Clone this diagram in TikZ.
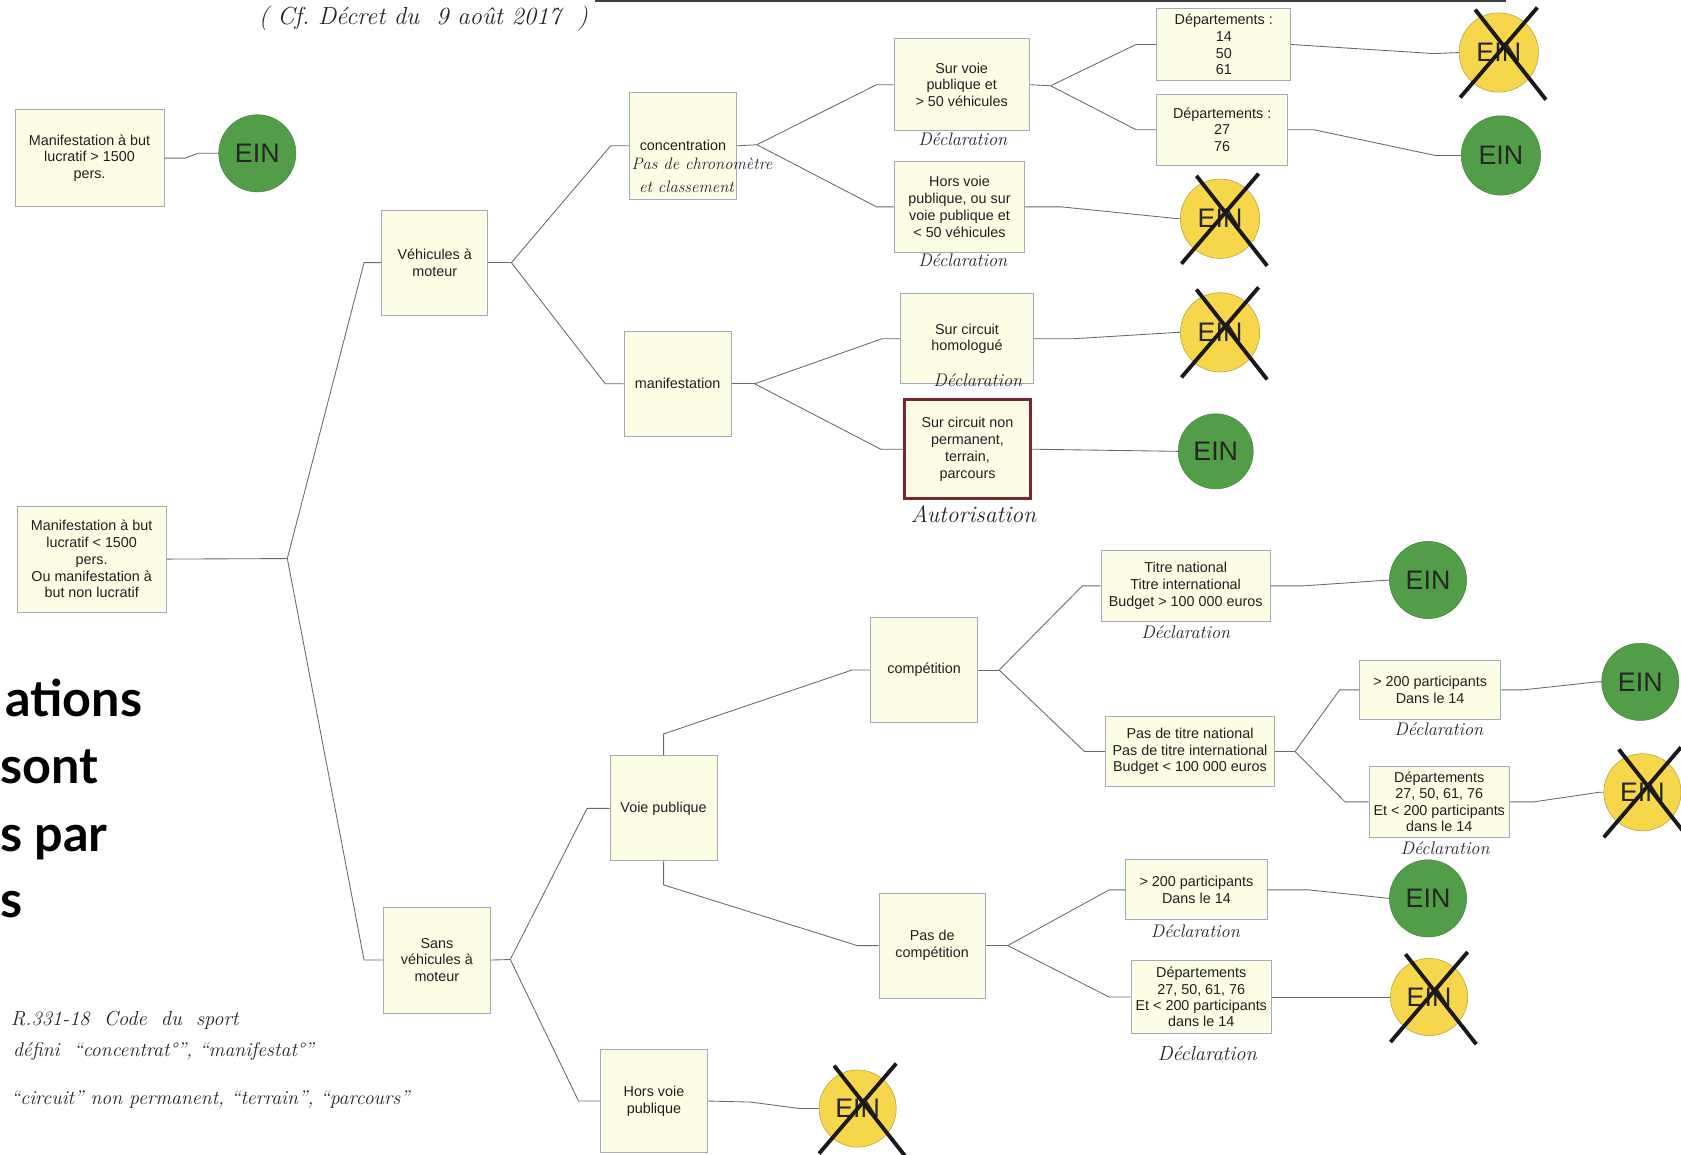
\documentclass[tikz,border=0pt]{standalone}
\usepackage{fontspec}
\newfontfamily\arial{Liberation Sans}
\newfontfamily\latof{Lato}
\definecolor{boxfill}{RGB}{253,253,230}
\definecolor{boxborder}{RGB}{160,172,188}
\definecolor{conncol}{RGB}{105,105,105}
\definecolor{eingreen}{RGB}{82,158,72}
\definecolor{einyellow}{RGB}{246,214,74}
\definecolor{redframe}{RGB}{122,38,46}
\definecolor{ink}{RGB}{35,35,48}
\begin{document}
\begin{tikzpicture}[x=1pt,y=-1pt,
  box/.style={draw=boxborder, fill=boxfill, line width=0.8pt, inner sep=2pt, align=center,
    font=\arial\fontsize{13.4}{15.6}\selectfont, text=black!88},
  redbox/.style={box, draw=redframe, line width=3pt},
  ein/.style={circle, minimum size=#1, inner sep=0pt, font=\arial\fontsize{25}{25}\selectfont, text=black!85},
  ein/.default=72pt,
  eingr/.style={ein=#1, fill=eingreen, draw=eingreen!85!black, line width=0.5pt},
  eingr/.default=72pt,
  einye/.style={ein=#1, fill=einyellow, draw=einyellow!75!black, line width=0.5pt},
  einye/.default=72pt,
  conn/.style={draw=conncol, line width=0.8pt},
  crossline/.style={draw=black!90, line width=3.6pt},
  hand/.style={inner sep=0pt, text=ink, font=\rmfamily\itshape\fontsize{#1}{#1}\selectfont},
  hand/.default=17,
  bigtxt/.style={inner sep=0pt, font=\latof\bfseries\fontsize{47}{47}\selectfont, text=black}
]
\useasboundingbox (0,0) rectangle (1568,1077);
\fill[white] (0,0) rectangle (1568,1077);

% top partial line
\coordinate (tl1) at (555,1.2);
\coordinate (tl2) at (1405,1.2);
\draw[draw=black!75, line width=2pt] (tl1) -- (tl2);

% title
\node[hand=23] (title) at (395,17) {(\ Cf.\ Décret du \ 9 août 2017 \ )};

% big cut text
\begin{scope}
\clip (0,0) rectangle (1568,1077);
\node[bigtxt, anchor=base east] (bt1) at (133,668) {ations};
\node[bigtxt, anchor=base west] (bt2) at (0,731) {sont};
\node[bigtxt, anchor=base west] (bt3) at (0,794) {s par};
\node[bigtxt, anchor=base west] (bt4) at (0,856) {s};
\end{scope}

% boxes
\node[box, minimum width=139pt, minimum height=91pt] (b1) at (83.5,147.5) {Manifestation à but\\lucratif > 1500\\pers.};
\node[box, minimum width=139pt, minimum height=99pt] (b2) at (85.5,521.5) {Manifestation à but\\lucratif < 1500\\pers.\\Ou manifestation à\\but non lucratif};
\node[box, minimum width=99pt, minimum height=98pt] (veh) at (405.5,245) {Véhicules à\\moteur};
\node[box, minimum width=100pt, minimum height=100pt] (conc) at (637,136) {concentration};
\node[box, minimum width=126pt, minimum height=86pt] (survoie) at (897,79) {Sur voie\\publique et\\> 50 véhicules};
\node[box, minimum width=125pt, minimum height=67pt] (dep1) at (1141.5,41.5) {Départements :\\14\\50\\61};
\node[box, minimum width=122pt, minimum height=66pt] (dep2) at (1140,121) {Départements :\\27\\76};
\node[box, minimum width=122pt, minimum height=84pt] (horsv1) at (895,193) {Hors voie\\publique, ou sur\\voie publique et\\< 50 véhicules};
\node[box, minimum width=100pt, minimum height=98pt] (manif) at (632,358) {manifestation};
\node[box, minimum width=124pt, minimum height=84pt] (homol) at (902,316) {Sur circuit\\homologué};
\node[redbox, minimum width=117pt, minimum height=92pt] (nonperm) at (902.5,419) {Sur circuit non\\permanent,\\terrain,\\parcours};
\node[box, minimum width=99pt, minimum height=99pt] (sans) at (407.5,895.5) {Sans\\véhicules à\\moteur};
\node[box, minimum width=100pt, minimum height=98pt] (voiep) at (619,754) {Voie publique};
\node[box, minimum width=100pt, minimum height=98pt] (compet) at (862,625) {compétition};
\node[box, minimum width=158pt, minimum height=67pt] (titre) at (1106,546.5) {Titre national\\Titre international\\Budget > 100 000 euros};
\node[box, minimum width=158pt, minimum height=66pt] (pastitre) at (1110,701) {Pas de titre national\\Pas de titre international\\Budget < 100 000 euros};
\node[box, minimum width=132pt, minimum height=55pt] (p200a) at (1334,643.5) {> 200 participants\\Dans le 14};
\node[box, minimum width=131pt, minimum height=66pt, font=\arial\fontsize{13.4}{15.2}\selectfont] (depa) at (1342.5,748) {Départements\\27, 50, 61, 76\\Et < 200 participants\\dans le 14};
\node[box, minimum width=99pt, minimum height=98pt] (pascomp) at (869.5,882) {Pas de\\compétition};
\node[box, minimum width=132pt, minimum height=56pt] (p200b) at (1116,830) {> 200 participants\\Dans le 14};
\node[box, minimum width=131pt, minimum height=68pt, font=\arial\fontsize{13.4}{15.2}\selectfont] (depb) at (1120.5,930) {Départements\\27, 50, 61, 76\\Et < 200 participants\\dans le 14};
\node[box, minimum width=100pt, minimum height=96pt] (horsv2) at (610,1027) {Hors voie\\publique};

% EIN circles
\node[eingr] (e1) at (240,143) {EIN};
\node[einye=74pt] (e2) at (1398,49) {EIN};
\node[eingr=74pt] (e3) at (1400,145) {EIN};
\node[einye=74pt] (e4) at (1138,204) {EIN};
\node[einye=74pt] (e5) at (1138,310) {EIN};
\node[eingr=70pt] (e6) at (1134,421) {EIN};
\node[eingr] (e7) at (1332,541) {EIN};
\node[eingr] (e8) at (1530,636) {EIN};
\node[einye] (e9) at (1532,739) {EIN};
\node[eingr] (e10) at (1332,838) {EIN};
\node[einye] (e11) at (1333,930) {EIN};
\node[einye] (e12) at (800,1034) {EIN};

% crosses
\foreach \c in {e2,e4,e5,e9,e11,e12}{
  \draw[crossline] ([shift={(-22,-40)}]\c.center) -- ([shift={(44,44)}]\c.center);
  \draw[crossline] ([shift={(36,-42)}]\c.center) -- ([shift={(-36,42)}]\c.center);
}

% junctions
\coordinate (j1) at (268,521);
\coordinate (j2) at (477,245);
\coordinate (j3) at (706,135);
\coordinate (j4) at (980,80);
\coordinate (j5) at (704,358);
\coordinate (j6) at (476,895);
\coordinate (j7) at (932,625);
\coordinate (j8) at (1208,701);
\coordinate (j9) at (940,882);

% connectors
\draw[conn] (b1.east) -- ++(19,0) -- ([xshift=-19pt]e1.west) -- (e1.west);
\draw[conn] (b2.east) -- (j1);
\draw[conn] (j1) -- ([xshift=-16pt]veh.west) -- (veh.west);
\draw[conn] (j1) -- ([xshift=-18pt]sans.west) -- (sans.west);
\draw[conn] (veh.east) -- (j2);
\draw[conn] (j2) -- ([xshift=-17pt]conc.west) -- (conc.west);
\draw[conn] (j2) -- ([xshift=-17pt]manif.west) -- (manif.west);
\draw[conn] (conc.east) -- (j3);
\draw[conn] (j3) -- ([xshift=-16pt]survoie.west) -- (survoie.west);
\draw[conn] (j3) -- ([xshift=-16pt]horsv1.west) -- (horsv1.west);
\draw[conn] (survoie.east) -- (j4);
\draw[conn] (j4) -- ([xshift=-19pt]dep1.west) -- (dep1.west);
\draw[conn] (j4) -- ([xshift=-19pt]dep2.west) -- (dep2.west);
\draw[conn] (dep1.east) -- ([xshift=-23pt,yshift=-1pt]e2.west) -- (e2.west);
\draw[conn] (dep2.east) -- ++(24,0) -- ([xshift=-24pt]e3.west) -- (e3.west);
\draw[conn] (horsv1.east) -- ++(34,0) -- ([xshift=-2pt]e4.west) -- (e4.west);
\draw[conn] (manif.east) -- (j5);
\draw[conn] (j5) -- ([xshift=-17pt]homol.west) -- (homol.west);
\draw[conn] (j5) -- ([xshift=-21pt]nonperm.west) -- (nonperm.west);
\draw[conn] (homol.east) -- ++(36,0) -- ([xshift=-2pt]e5.west) -- (e5.west);
\draw[conn] (nonperm.east) -- (e6.west);
\draw[conn] (sans.east) -- (j6);
\draw[conn] (j6) -- ([xshift=-21pt]voiep.west) -- (voiep.west);
\draw[conn] (j6) -- ([xshift=-20pt]horsv2.west) -- (horsv2.west);
\draw[conn] (voiep.north) -- ++(0,-20) -- ([xshift=-17pt]compet.west) -- (compet.west);
\draw[conn] (voiep.south) -- ++(0,22) -- ([xshift=-20pt]pascomp.west) -- (pascomp.west);
\draw[conn] (compet.east) -- (j7);
\draw[conn] (j7) -- ([xshift=-17pt]titre.west) -- (titre.west);
\draw[conn] (j7) -- ([xshift=-19pt]pastitre.west) -- (pastitre.west);
\draw[conn] (titre.east) -- ++(30,0) -- (e7.west);
\draw[conn] (pastitre.east) -- (j8);
\draw[conn] (j8) -- ([xshift=-18pt]p200a.west) -- (p200a.west);
\draw[conn] (j8) -- ([xshift=-22pt]depa.west) -- (depa.west);
\draw[conn] (p200a.east) -- ++(20,0) -- ([xshift=-4pt]e8.west) -- (e8.west);
\draw[conn] (depa.east) -- ++(22,0) -- ([xshift=-4pt]e9.west) -- (e9.west);
\draw[conn] (pascomp.east) -- (j9);
\draw[conn] (j9) -- ([xshift=-15pt]p200b.west) -- (p200b.west);
\draw[conn] (j9) -- ([xshift=-20pt]depb.west) -- (depb.west);
\draw[conn] (p200b.east) -- ++(38,0) -- (e10.west);
\draw[conn] (depb.east) -- (e11.west);
\draw[conn] (horsv2.east) -- ++(40,1) -- ([xshift=-18pt]e12.west) -- (e12.west);

% handwritten notes
\node[hand=15.5, anchor=west] (hc1) at (589,153) {Pas de chronomètre};
\node[hand=15.5, anchor=west] (hc2) at (596,174) {et classement};
\node[hand] (d1) at (898,130) {Déclaration};
\node[hand] (d2) at (898,243) {Déclaration};
\node[hand] (d3) at (912,355) {Déclaration};
\node[hand=22] (aut) at (908,480) {Autorisation};
\node[hand] (d4) at (1106,590) {Déclaration};
\node[hand] (d5) at (1342,680) {Déclaration};
\node[hand] (d6) at (1348,791) {Déclaration};
\node[hand] (d7) at (1115,869) {Déclaration};
\node[hand=19] (d8) at (1126,983) {Déclaration};
\node[hand=19, anchor=base west] (r1) at (10,957) {R.331-18 \ Code \ du \ sport};
\node[hand=18.5, anchor=base west] (r2) at (12,985) {défini \ ``concentrat°'', ``manifestat°''};
\node[hand=18.5, anchor=base west] (r3) at (10,1030) {``circuit'' non permanent, ``terrain'', ``parcours''};
\end{tikzpicture}
\end{document}
